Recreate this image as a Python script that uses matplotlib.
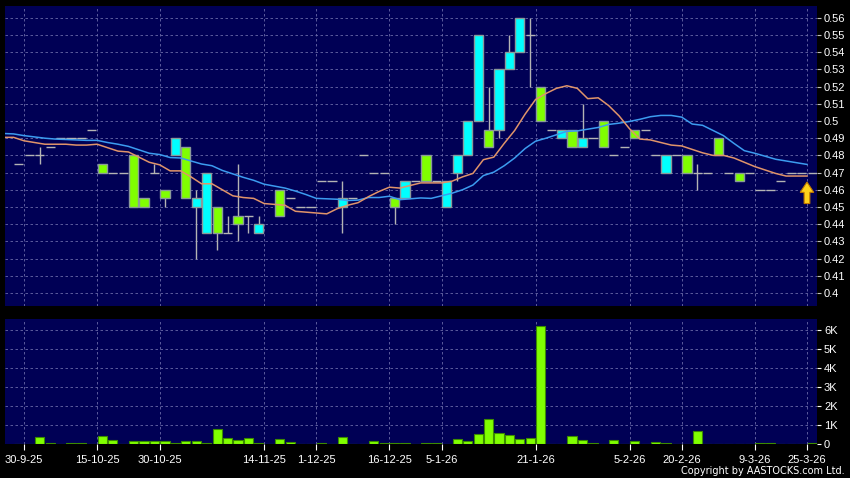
import matplotlib
matplotlib.use('Agg')
import matplotlib.pyplot as plt
import numpy as np
import pandas as pd

plt.rcParams['font.family'] = ['Liberation Sans', 'DejaVu Sans']

# one slot per trading day, slot -1 is the first candle at the left edge
first_slot = -1
nan = np.nan

opens = [0.475, 0.48, 0.48, 0.485, 0.49, 0.49, 0.49, 0.495, 0.475, 0.47,
         0.47, 0.48, 0.455, 0.47, 0.46, 0.48, 0.485, 0.45, 0.435, 0.45,
         0.435, 0.445, 0.445, 0.435, nan, 0.46, 0.455, 0.45, 0.45, 0.465,
         0.465, 0.45, 0.455, 0.48, 0.47, 0.47, 0.455, 0.455, 0.465, 0.48,
         0.465, 0.45, 0.47, 0.48, 0.50, 0.495, 0.495, 0.53, 0.54, 0.55,
         0.52, 0.495, 0.49, 0.495, 0.485, 0.49, 0.50, 0.48, 0.485, 0.495,
         0.495, 0.48, 0.47, 0.48, 0.48, 0.47, 0.47, 0.49, 0.47, 0.47,
         0.47, 0.46, 0.46, 0.465, 0.47, 0.47, 0.47]
highs = [0.475, 0.48, 0.485, 0.485, 0.49, 0.49, 0.49, 0.495, 0.475, 0.47,
         0.47, 0.48, 0.455, 0.475, 0.46, 0.49, 0.485, 0.46, 0.47, 0.45,
         0.445, 0.475, 0.445, 0.445, nan, 0.46, 0.455, 0.45, 0.45, 0.465,
         0.465, 0.465, 0.455, 0.48, 0.47, 0.47, 0.455, 0.465, 0.465, 0.48,
         0.465, 0.465, 0.48, 0.50, 0.55, 0.52, 0.53, 0.55, 0.56, 0.56,
         0.52, 0.495, 0.495, 0.495, 0.51, 0.49, 0.50, 0.48, 0.485, 0.495,
         0.495, 0.48, 0.48, 0.48, 0.48, 0.475, 0.47, 0.49, 0.47, 0.47,
         0.47, 0.46, 0.46, 0.465, 0.47, 0.47, 0.47]
lows = [0.475, 0.48, 0.475, 0.485, 0.49, 0.49, 0.49, 0.495, 0.47, 0.47,
        0.47, 0.45, 0.45, 0.47, 0.45, 0.48, 0.455, 0.42, 0.435, 0.425,
        0.435, 0.43, 0.435, 0.435, nan, 0.445, 0.455, 0.45, 0.45, 0.465,
        0.465, 0.435, 0.455, 0.48, 0.47, 0.47, 0.44, 0.455, 0.465, 0.465,
        0.465, 0.45, 0.465, 0.48, 0.50, 0.485, 0.49, 0.53, 0.54, 0.52,
        0.50, 0.495, 0.49, 0.485, 0.485, 0.49, 0.485, 0.48, 0.485, 0.49,
        0.495, 0.48, 0.47, 0.48, 0.47, 0.46, 0.47, 0.48, 0.47, 0.465,
        0.47, 0.46, 0.46, 0.465, 0.47, 0.47, 0.47]
closes = [0.475, 0.48, 0.48, 0.485, 0.49, 0.49, 0.49, 0.495, 0.47, 0.47,
          0.47, 0.45, 0.45, 0.47, 0.455, 0.49, 0.455, 0.455, 0.47, 0.435,
          0.435, 0.44, 0.445, 0.44, nan, 0.445, 0.455, 0.45, 0.45, 0.465,
          0.465, 0.455, 0.455, 0.48, 0.47, 0.47, 0.45, 0.465, 0.465, 0.465,
          0.465, 0.465, 0.48, 0.50, 0.55, 0.485, 0.53, 0.54, 0.56, 0.55,
          0.50, 0.495, 0.495, 0.485, 0.49, 0.49, 0.485, 0.48, 0.485, 0.49,
          0.495, 0.48, 0.48, 0.48, 0.47, 0.47, 0.47, 0.48, 0.47, 0.465,
          0.47, 0.46, 0.46, 0.465, 0.47, 0.47, 0.47]
volumes = [0, 0, 350, 70, 0, 30, 70, 0, 440, 230,
           20, 140, 140, 140, 175, 50, 160, 160, 70, 770,
           300, 190, 330, 50, 0, 280, 80, 20, 10, 70,
           20, 350, 0, 20, 140, 30, 30, 60, 0, 70,
           70, 10, 260, 170, 530, 1290, 580, 470, 240, 300,
           6210, 20, 20, 420, 230, 70, 0, 230, 0, 160,
           0, 100, 30, 10, 0, 660, 20, 10, 0, 20,
           0, 60, 60, 10, 0, 0, 60]

# closes before the visible window (estimated), only used to seed the moving averages
earlier_closes = [0.495, 0.495, 0.495, 0.495, 0.495, 0.495, 0.495, 0.495, 0.495, 0.495,
                  0.49, 0.495, 0.49, 0.49, 0.485, 0.49, 0.495, 0.49, 0.49, 0.49, 0.49]

tick_slots = [0, 7, 13, 23, 28, 35, 40, 49, 58, 63, 70, 75]
tick_labels = ['30-9-25', '15-10-25', '30-10-25', '14-11-25', '1-12-25', '16-12-25',
               '5-1-26', '21-1-26', '5-2-26', '20-2-26', '9-3-26', '25-3-26']

up_color = '#00ffff'
down_color = '#80ff00'
wick_color = '#b4b4b4'
bg = '#000055'
grid_color = '#6a6aa8'

x = np.arange(first_slot, first_slot + len(closes))
o = np.array(opens); h = np.array(highs); l = np.array(lows); c = np.array(closes)
v = np.array(volumes)

fig = plt.figure(figsize=(8.5, 4.78), dpi=100, facecolor='black')
ax = fig.add_axes([5/850, 1-306/478, 812/850, 300/478], facecolor=bg)
axv = fig.add_axes([5/850, 1-444/478, 812/850, 125/478], facecolor=bg, sharex=ax)

w = 0.88
valid = ~np.isnan(c)
doji = valid & (o == c)
up = valid & (c > o)
down = valid & (c < o)

# grid first so everything sits on top
for a in (ax, axv):
    a.set_axisbelow(True)
    a.grid(True, color=grid_color, linestyle=(0, (3, 3)), linewidth=0.6)
    for s in a.spines.values():
        s.set_visible(False)

# wicks
ax.vlines(x[valid], l[valid], h[valid], color=wick_color, linewidth=1, zorder=2)
# doji dashes
ax.hlines(c[doji], x[doji] - w/2, x[doji] + w/2, color=wick_color, linewidth=1, zorder=2)
# bodies
ax.bar(x[up], c[up] - o[up], bottom=o[up], width=w, color=up_color,
       edgecolor='#8a9a9a', linewidth=1, zorder=3)
ax.bar(x[down], o[down] - c[down], bottom=c[down], width=w, color=down_color,
       edgecolor='#8a9a9a', linewidth=1, zorder=3)

# moving averages (drawn at the right edge of each candle, last full day only)
all_slots = np.arange(first_slot - len(earlier_closes), first_slot + len(closes))
s = pd.Series(earlier_closes + closes, index=all_slots).dropna()
ma10 = s.rolling(10).mean()
ma20 = s.rolling(20).mean()
last_ma = x[-2]
sel = (s.index >= first_slot - 2) & (s.index <= last_ma)
ax.plot(s.index[sel] + 0.5, ma20[sel], color='#3c9cf0', linewidth=1.1, zorder=4)
ax.plot(s.index[sel] + 0.5, ma10[sel], color='#e0946a', linewidth=1.1, zorder=4)

# last price arrow
last_close = c[-1]
ax.arrow(last_ma + 0.5, last_close - 0.018, 0, 0.0125, width=0.55, head_width=1.3,
         head_length=0.006, length_includes_head=True, fc='#ffd21a', ec='#c07800',
         linewidth=0.8, zorder=5)

ax.set_xlim(-2.32, 75.46)
ax.set_ylim(0.3924, 0.5669)
yt = np.round(np.arange(0.40, 0.5651, 0.01), 2)
ax.set_yticks(yt)
ax.set_yticklabels([('%.2f' % t).rstrip('0') for t in yt])
ax.yaxis.tick_right()
ax.tick_params(axis='y', colors='white', labelsize=8, length=3, pad=2, width=0.8)
ax.tick_params(axis='y', color='#c0c0c0')
ax.tick_params(axis='x', length=0, labelbottom=False)

# volume
axv.bar(x, v, width=w, color=down_color, edgecolor='#3c8c00', linewidth=0.8, zorder=3)
axv.set_ylim(0, 6580)
vt = [0, 1000, 2000, 3000, 4000, 5000, 6000]
axv.set_yticks(vt)
axv.set_yticklabels(['0'] + ['%dK' % (t // 1000) for t in vt[1:]])
axv.yaxis.tick_right()
axv.tick_params(axis='y', colors='white', labelsize=8, length=3, pad=2, width=0.8)
axv.set_xticks(np.array(tick_slots) - 0.5)
axv.set_xticklabels(tick_labels)
axv.tick_params(axis='x', colors='white', labelsize=8, length=4, pad=4, width=0.8)
ax.set_xticks(np.array(tick_slots) - 0.5)

fig.text(0.994, 0.004, 'Copyright by AASTOCKS.com Ltd.', ha='right', va='bottom',
         color='white', fontsize=7, family='DejaVu Sans')

fig.savefig('out.png', dpi=100, facecolor='black')
